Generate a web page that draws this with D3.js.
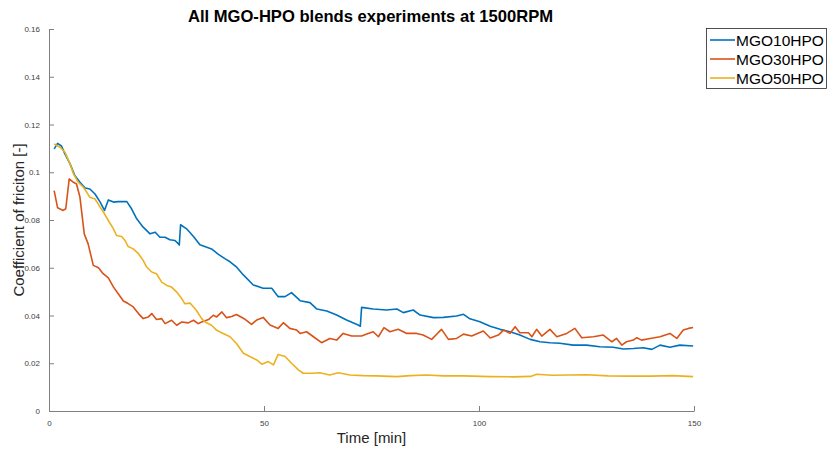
<!DOCTYPE html>
<html>
<head>
<meta charset="utf-8">
<script src="https://cdn.jsdelivr.net/npm/d3@7"></script>
<style>
  body { margin: 0; background: #fff; }
  svg { display: block; }
  text { font-family: "Liberation Sans", Arial, sans-serif; }
</style>
</head>
<body>
<svg id="chart" width="827" height="452"></svg>
<script>
// ---- data ----
const seriesNames = ["MGO10HPO", "MGO30HPO", "MGO50HPO"];
const seriesColors = ["#0072BD", "#D95319", "#EDB120"];
const xTicks = [0, 50, 100, 150];
const yTicks = [0, 0.02, 0.04, 0.06, 0.08, 0.1, 0.12, 0.14, 0.16];

const t10 = [1.2, 2, 2.9, 3.7, 4.9, 6, 7.2, 8.4, 9.5, 10.7, 11.9, 12.9, 13.8, 15, 16.1, 18.1, 19.2, 20.4, 21.9, 23.5, 24.7, 25.8, 27, 28.1, 29.3, 30.1, 30.3, 30.6, 32, 33.6, 35.1, 36.7, 37.8, 39.4, 40.9, 42.1, 43.5, 45.2, 47.5, 49.8, 51.8, 53.3, 54.9, 56.4, 58.4, 60.7, 62.3, 64.6, 66.9, 69.2, 71.9, 72.4, 72.7, 75.4, 78.5, 80.9, 82.4, 84.7, 86.3, 89.4, 91.7, 94.8, 96.4, 97.9, 100.2, 102.6, 104.9, 107.2, 109.5, 111.9, 114.2, 116.5, 118.8, 121.9, 125, 128.1, 131.2, 133.6, 135.9, 138.2, 140.2, 142.1, 144.4, 146.7, 149.8];
const v10 = [0.1098, 0.1121, 0.111, 0.1077, 0.1035, 0.0986, 0.0958, 0.0934, 0.093, 0.0909, 0.0875, 0.084, 0.0884, 0.0875, 0.0877, 0.0877, 0.0847, 0.0805, 0.077, 0.0742, 0.0749, 0.0728, 0.0728, 0.0717, 0.0714, 0.07, 0.0695, 0.078, 0.0763, 0.0731, 0.0696, 0.0686, 0.0679, 0.0656, 0.0638, 0.0625, 0.0605, 0.057, 0.0528, 0.0514, 0.0514, 0.0479, 0.0479, 0.0496, 0.0462, 0.0454, 0.0427, 0.0419, 0.0402, 0.0381, 0.036, 0.0355, 0.0434, 0.0427, 0.0423, 0.0427, 0.0412, 0.0423, 0.0402, 0.0391, 0.0392, 0.0398, 0.0405, 0.0386, 0.0374, 0.0355, 0.0342, 0.0332, 0.0318, 0.03, 0.029, 0.0286, 0.0284, 0.0276, 0.0276, 0.0269, 0.0267, 0.026, 0.0262, 0.0265, 0.0258, 0.0276, 0.0267, 0.0276, 0.0272];

const t30 = [1.2, 2, 3.3, 3.9, 4.7, 5.7, 6.4, 7.2, 8.2, 9.1, 10.3, 11.5, 12.6, 13.8, 15, 16.1, 17.3, 18.4, 19.6, 20.8, 21.9, 23.1, 23.9, 25, 26.2, 27, 28.5, 29.7, 30.9, 32.4, 33.6, 34.7, 35.5, 37.1, 38.2, 39, 40.2, 41.3, 42.5, 43.6, 45.6, 47.1, 48.3, 49.8, 51.4, 53.3, 54.5, 56, 57.6, 58.4, 59.9, 61.5, 63.4, 65.3, 66.9, 68.4, 70.4, 72.7, 73.9, 75.4, 76.6, 77.9, 79.3, 81.2, 83.2, 85.5, 87, 89, 90.5, 91.3, 92.9, 94.8, 96.4, 98.3, 101, 102.6, 104.5, 105.7, 107.2, 108.4, 109.5, 111.5, 112.3, 113.4, 114.6, 116.5, 118.1, 120.4, 122.3, 123.9, 126.6, 128.9, 130.9, 132, 133.2, 134.3, 135.9, 136.7, 137.8, 139.8, 142.1, 144.4, 146, 147.5, 148.7, 149.8];
const v30 = [0.0923, 0.0851, 0.084, 0.0847, 0.0972, 0.0958, 0.0951, 0.0895, 0.0742, 0.07, 0.061, 0.06, 0.0575, 0.0558, 0.0519, 0.0491, 0.0461, 0.045, 0.0436, 0.0408, 0.0387, 0.0394, 0.0408, 0.0383, 0.0387, 0.0366, 0.038, 0.0359, 0.0373, 0.0369, 0.038, 0.0366, 0.0373, 0.0383, 0.0401, 0.0394, 0.0415, 0.0391, 0.0396, 0.0404, 0.0384, 0.0363, 0.0381, 0.0392, 0.036, 0.0346, 0.037, 0.0346, 0.0339, 0.0325, 0.0332, 0.0311, 0.0286, 0.0304, 0.0297, 0.0325, 0.0314, 0.0314, 0.0322, 0.0332, 0.0311, 0.0349, 0.0332, 0.0342, 0.0325, 0.0325, 0.0318, 0.03, 0.0328, 0.0342, 0.03, 0.0304, 0.0322, 0.0314, 0.0335, 0.0306, 0.0318, 0.0339, 0.0325, 0.0353, 0.0328, 0.0328, 0.0311, 0.0342, 0.0314, 0.0342, 0.0311, 0.0325, 0.0346, 0.0307, 0.0311, 0.0318, 0.029, 0.0304, 0.0276, 0.029, 0.0297, 0.0307, 0.0297, 0.0304, 0.0311, 0.0325, 0.0304, 0.0339, 0.0346, 0.035];

const t50 = [1.2, 2.6, 3.7, 4.9, 5.7, 6.8, 8, 8.8, 9.5, 10.7, 11.9, 12.9, 13.8, 15, 15.7, 16.9, 17.7, 18.4, 19.6, 20.8, 21.9, 22.7, 23.9, 25, 26.2, 27.4, 28.5, 29.7, 30.9, 31.6, 32.8, 34.3, 35.5, 36.3, 37.8, 39, 40.5, 42.1, 43.6, 45.2, 46.7, 48.3, 49.5, 51, 52.2, 53.3, 54.9, 56.4, 58, 59.1, 61.1, 63, 65.3, 67.3, 70, 73.1, 76.2, 80.9, 84, 87.8, 91.7, 96.4, 102.6, 108, 112, 113.4, 117, 121, 125, 130, 135, 140, 145, 149.8];
const v50 = [0.1118, 0.1105, 0.1084, 0.1035, 0.0993, 0.0958, 0.0937, 0.0916, 0.0895, 0.0888, 0.0854, 0.0826, 0.0798, 0.0763, 0.0735, 0.0731, 0.0714, 0.0689, 0.0679, 0.0659, 0.0631, 0.0603, 0.0582, 0.0575, 0.054, 0.0526, 0.0519, 0.0498, 0.047, 0.0449, 0.0452, 0.0421, 0.0387, 0.0373, 0.0359, 0.0338, 0.0325, 0.0311, 0.0283, 0.0242, 0.0228, 0.0214, 0.0196, 0.0207, 0.0193, 0.0237, 0.0228, 0.02, 0.0172, 0.0158, 0.0158, 0.016, 0.0151, 0.016, 0.0151, 0.0148, 0.0147, 0.0144, 0.0148, 0.0151, 0.0147, 0.0147, 0.0144, 0.0143, 0.0145, 0.0154, 0.015, 0.0151, 0.0152, 0.0147, 0.0146, 0.0146, 0.0148, 0.0144];

const titleText = "All MGO-HPO blends experiments at 1500RPM";
const xLabel = "Time [min]";
const yLabel = "Coefficient of friciton [-]";

// ---- drawing ----
const svg = d3.select("#chart");
const mLeft = 49, mRight = 694, mTop = 29, mBottom = 411;
const x = d3.scaleLinear().domain([0, 150]).range([mLeft, mRight]);
const y = d3.scaleLinear().domain([0, 0.16]).range([mBottom, mTop]);

const axisColor = "#808080";
const labelColor = "#404040";

// x axis (ticks inside)
const gx = svg.append("g").attr("transform", `translate(0,${mBottom})`)
  .call(d3.axisBottom(x).tickValues(xTicks).tickSizeInner(-5).tickSizeOuter(0).tickPadding(9)
    .tickFormat(d3.format("d")));
gx.select(".domain").attr("stroke", axisColor).attr("stroke-width", 1);
gx.selectAll(".tick line").attr("stroke", axisColor);
gx.selectAll("text").attr("fill", labelColor).attr("font-size", "8px");

// y axis
const gy = svg.append("g").attr("transform", `translate(${mLeft},0)`)
  .call(d3.axisLeft(y).tickValues(yTicks).tickSizeInner(-5).tickSizeOuter(0).tickPadding(9)
    .tickFormat(d => d === 0 ? "0" : String(+d.toFixed(2))));
gy.select(".domain").attr("stroke", axisColor).attr("stroke-width", 1);
gy.selectAll(".tick line").attr("stroke", axisColor);
gy.selectAll("text").attr("fill", labelColor).attr("font-size", "8px");

// lines
const allSeries = [
  { name: seriesNames[0], t: t10, v: v10, color: seriesColors[0] },
  { name: seriesNames[1], t: t30, v: v30, color: seriesColors[1] },
  { name: seriesNames[2], t: t50, v: v50, color: seriesColors[2] }
];
const line = d3.line().x(d => x(d[0])).y(d => y(d[1]));
allSeries.forEach(s => {
  svg.append("path")
    .datum(s.t.map((tt, i) => [tt, s.v[i]]))
    .attr("d", line)
    .attr("fill", "none")
    .attr("stroke", s.color)
    .attr("stroke-width", 1.6)
    .attr("stroke-linejoin", "round");
});

// title and labels
svg.append("text").attr("x", (mLeft + mRight) / 2 - 1).attr("y", 22)
  .attr("text-anchor", "middle").attr("font-size", "16.6px").attr("font-weight", "bold")
  .attr("fill", "#000").text(titleText);
svg.append("text").attr("x", (mLeft + mRight) / 2).attr("y", 443)
  .attr("text-anchor", "middle").attr("font-size", "15px").attr("fill", "#262626").text(xLabel);
svg.append("text").attr("transform", `translate(24,${(mTop + mBottom) / 2}) rotate(-90)`)
  .attr("text-anchor", "middle").attr("font-size", "15px").attr("fill", "#262626").text(yLabel);

// legend
const lg = svg.append("g");
lg.append("rect").attr("x", 706.5).attr("y", 28.5).attr("width", 120).attr("height", 60)
  .attr("fill", "#fff").attr("stroke", "#262626").attr("stroke-width", 0.8);
allSeries.forEach((s, i) => {
  const cy = 40 + i * 19;
  lg.append("line").attr("x1", 710).attr("x2", 735).attr("y1", cy).attr("y2", cy)
    .attr("stroke", s.color).attr("stroke-width", 1.6);
  lg.append("text").attr("x", 736).attr("y", cy + 5.5).attr("font-size", "15.5px")
    .attr("fill", "#000").text(s.name);
});
</script>
</body>
</html>
